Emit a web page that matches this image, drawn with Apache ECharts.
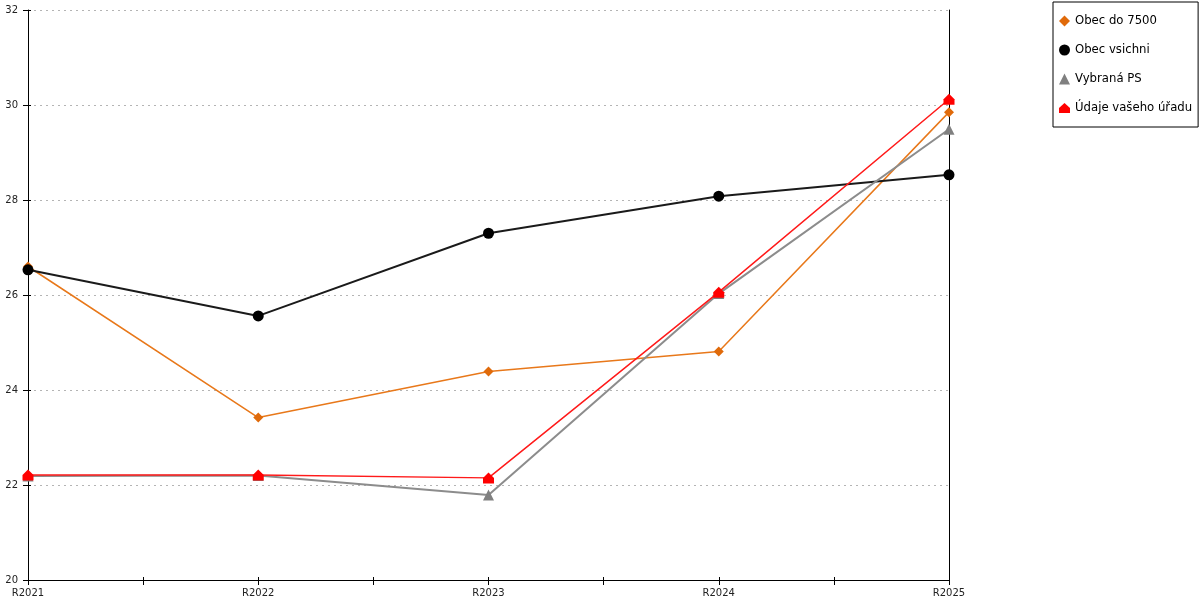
<!DOCTYPE html>
<html>
<head>
<meta charset="utf-8">
<script src="https://cdn.jsdelivr.net/npm/echarts@6/dist/echarts.min.js"></script>
<style>
  html, body { margin: 0; padding: 0; background: #fff; }
  #chart { width: 1200px; height: 600px; }
</style>
</head>
<body>
<div id="chart"></div>
<script>
var categories = ['R2021', 'R2022', 'R2023', 'R2024', 'R2025'];
var seriesNames = ['Obec do 7500', 'Obec vsichni', 'Vybraná PS', 'Údaje vašeho úřadu'];
var obecDo7500 = [26.6, 23.42, 24.39, 24.81, 29.85];
var obecVsichni = [26.53, 25.56, 27.3, 28.08, 28.53];
var vybranaPS = [22.19, 22.2, 21.79, 26.03, 29.49];
var udajeUradu = [22.21, 22.21, 22.15, 26.06, 30.12];
var yTicks = [20, 22, 24, 26, 28, 30, 32];

var font = 'DejaVu Sans';
var house = 'path://M0,5 L5.5,0 L11,5 L11,10 L0,10 Z';

var chart = echarts.init(document.getElementById('chart'));

var tickAxisX = function (inside, len) {
  return {
    type: 'value', gridIndex: 0, position: 'bottom',
    min: 0, max: (categories.length - 1) * 2, interval: 1,
    axisLine: {show: false},
    axisLabel: {show: false},
    splitLine: {show: false},
    axisTick: {show: true, inside: inside, length: len, lineStyle: {color: '#000'}}
  };
};

chart.setOption({
  animation: false,
  backgroundColor: '#fff',
  textStyle: {fontFamily: font},
  grid: {left: 28, right: 251, top: 10, bottom: 20, containLabel: false},
  legend: {
    orient: 'vertical',
    left: 1053,
    top: 2,
    padding: [13, 6, 13, 6],
    itemWidth: 11,
    itemHeight: 11,
    itemGap: 17,
    borderColor: '#000',
    borderWidth: 1,
    textStyle: {fontFamily: font, fontSize: 11.7, color: '#000'},
    data: [
      {name: seriesNames[0], icon: 'diamond'},
      {name: seriesNames[1], icon: 'circle'},
      {name: seriesNames[2], icon: 'triangle'},
      {name: seriesNames[3], icon: house}
    ]
  },
  xAxis: [
    {
      type: 'category',
      data: categories,
      boundaryGap: false,
      axisLine: {lineStyle: {color: '#000', width: 1}},
      axisTick: {show: false},
      axisLabel: {fontFamily: font, fontSize: 10, color: '#222', margin: 8, interval: 0},
      splitLine: {show: false}
    },
    tickAxisX(false, 5),
    tickAxisX(true, 3)
  ],
  yAxis: [
    {
      type: 'value',
      min: yTicks[0],
      max: yTicks[yTicks.length - 1],
      interval: 2,
      axisLine: {show: true, lineStyle: {color: '#000', width: 1}},
      axisTick: {show: true, length: 5, lineStyle: {color: '#000'}},
      axisLabel: {fontFamily: font, fontSize: 10, color: '#222', margin: 10},
      splitLine: {show: true, lineStyle: {color: '#b4b4b4', type: [2, 4], width: 1}}
    },
    {
      type: 'value', position: 'left',
      min: yTicks[0], max: yTicks[yTicks.length - 1], interval: 2,
      axisLine: {show: false},
      axisTick: {show: true, inside: true, length: 3, lineStyle: {color: '#000'}},
      axisLabel: {show: false},
      splitLine: {show: false}
    },
    {
      type: 'value', position: 'right',
      min: yTicks[0], max: yTicks[yTicks.length - 1], interval: 2,
      axisLine: {show: true, lineStyle: {color: '#000', width: 1}},
      axisTick: {show: false},
      axisLabel: {show: false},
      splitLine: {show: false}
    }
  ],
  series: [
    {
      name: seriesNames[0], type: 'line', data: obecDo7500,
      symbol: 'diamond', symbolSize: 10,
      lineStyle: {color: '#e8781a', width: 1.5},
      itemStyle: {color: '#e06a0a'}
    },
    {
      name: seriesNames[1], type: 'line', data: obecVsichni,
      symbol: 'circle', symbolSize: 11,
      lineStyle: {color: '#1a1a1a', width: 2},
      itemStyle: {color: '#000'}
    },
    {
      name: seriesNames[2], type: 'line', data: vybranaPS,
      symbol: 'triangle', symbolSize: 11,
      lineStyle: {color: '#8c8c8c', width: 2},
      itemStyle: {color: '#808080'}
    },
    {
      name: seriesNames[3], type: 'line', data: udajeUradu,
      symbol: house, symbolSize: 11,
      lineStyle: {color: '#ff1a1a', width: 1.5},
      itemStyle: {color: '#ff0000'}
    }
  ]
});
</script>
</body>
</html>
